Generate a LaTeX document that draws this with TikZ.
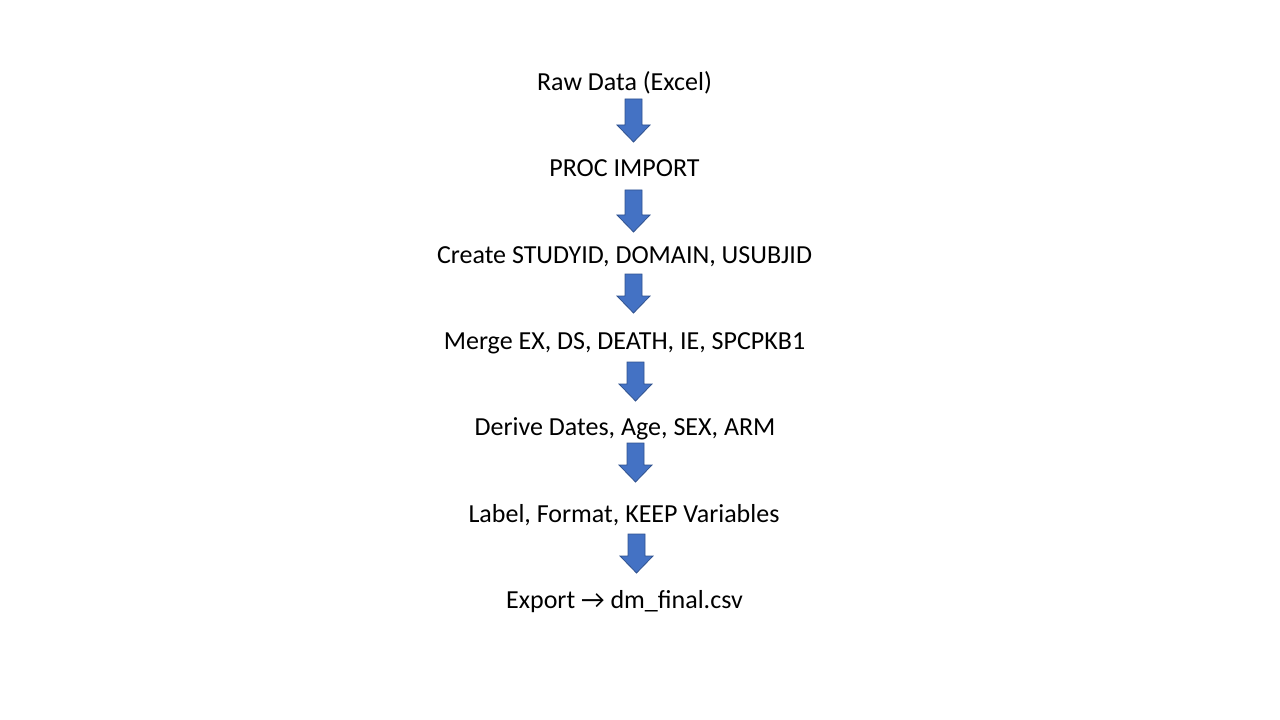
\documentclass[tikz,border=0pt]{standalone}
\usepackage{fontspec}
\setmainfont{Carlito}
\definecolor{arrowfill}{HTML}{4472C4}
\definecolor{arrowline}{HTML}{2F528F}
\tikzset{
  steptext/.style={anchor=base, inner sep=0pt, font=\fontsize{19.5}{23}\selectfont, text=black},
  blockarrow/.style={fill=arrowfill, draw=arrowline, line width=0.6pt, line join=miter}
}
\newcommand\blkarrow[3]{% center x, top y, tip y
  \filldraw[blockarrow] (#1-8.5,#2) -- (#1+8.5,#2) -- (#1+8.5,#3-17) -- (#1+16.5,#3-17)
    -- (#1,#3) -- (#1-16.5,#3-17) -- (#1-8.5,#3-17) -- cycle;}
\begin{document}
\begin{tikzpicture}[x=0.75pt,y=-0.75pt]
\useasboundingbox (0,0) rectangle (1280,720);
\node[steptext] (t1) at (624.5,90.5) {Raw Data (Excel)};
\node[steptext] (t2) at (624.5,176.5) {PROC IMPORT};
\node[steptext] (t3) at (624.5,263) {Create STUDYID, DOMAIN, USUBJID};
\node[steptext] (t4) at (624.5,349.5) {Merge EX, DS, DEATH, IE, SPCPKB1};
\node[steptext] (t5) at (625,435.5) {Derive Dates, Age, SEX, ARM};
\node[steptext] (t6) at (624,522) {Label, Format, KEEP Variables};
\node[steptext] (t7) at (624.5,608.5) {Export → dm\_final.csv};
\blkarrow{633.5}{99}{142}
\blkarrow{633.5}{190}{232}
\blkarrow{633.5}{274}{313}
\blkarrow{635.5}{362}{401}
\blkarrow{635.5}{443}{482}
\blkarrow{636.5}{534}{573}
\end{tikzpicture}
\end{document}
